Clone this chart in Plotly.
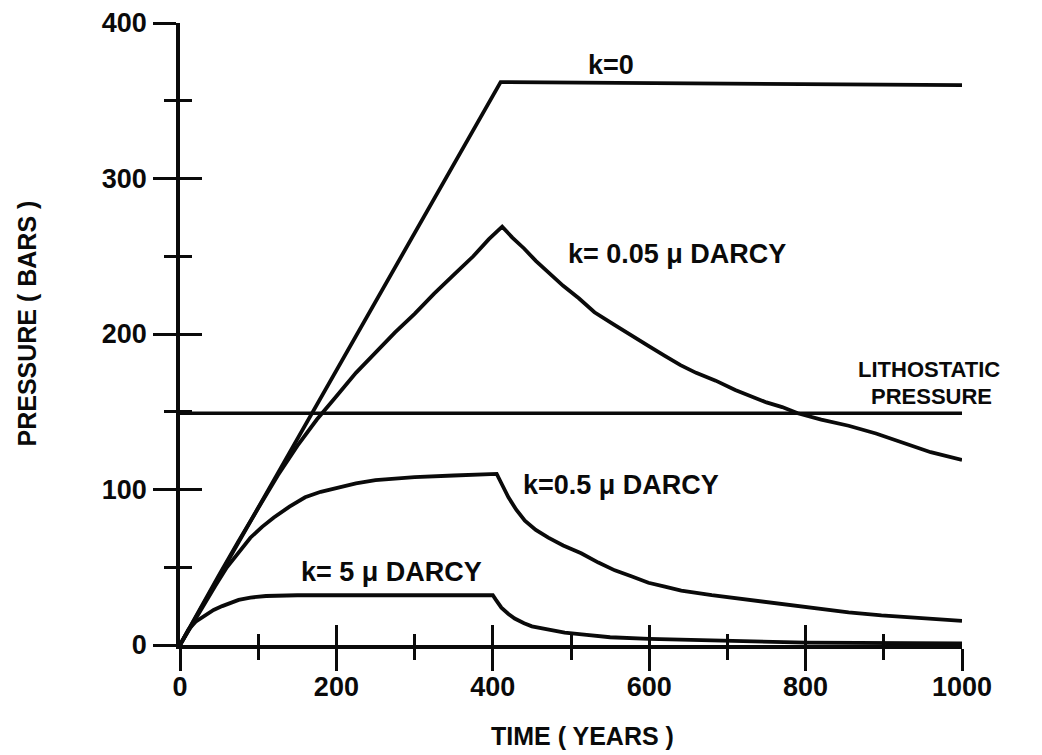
import plotly.graph_objects as go

# ---- data ----
t_k0 = [0, 410, 1000]
p_k0 = [0, 362, 360]

t_k005 = [0, 25, 50, 75, 100, 125, 150, 175, 200, 225, 250, 275, 300, 325, 350, 375, 395, 412,
          425, 440, 455, 470, 490, 510, 530, 555, 580, 600, 620, 640, 660, 685, 710, 730, 750,
          770, 790, 820, 855, 890, 920, 960, 1000]
p_k005 = [0, 23, 45, 67, 88, 109, 128, 145, 160, 175, 188, 201, 213, 226, 238, 250, 261, 269,
          262, 255, 247, 240, 231, 223, 214, 206, 198, 192, 186, 180, 175, 170, 164, 160, 156,
          153, 149, 145, 141, 136, 131, 124, 119]

t_k05 = [0, 15, 30, 45, 60, 75, 90, 105, 120, 140, 160, 180, 200, 225, 250, 300, 350, 400, 405,
         410, 415, 420, 430, 441, 455, 471, 490, 513, 535, 556, 578, 599, 620, 641, 680, 727,
         770, 811, 855, 897, 950, 1000]
p_k05 = [0, 13, 26, 38, 50, 60, 69, 76, 82, 89, 95, 98.5, 101, 104, 106, 108, 109, 110, 110,
         105, 100, 95, 87, 80, 74, 69, 64, 59, 53, 48, 44, 40, 37.5, 35, 32, 29,
         26, 23.5, 21, 19, 17, 15.5]

t_k5 = [0, 5, 11, 20, 32, 43, 54, 65, 75, 90, 110, 150, 400, 404, 411, 420, 428, 440, 450, 470,
        492, 520, 550, 600, 700, 800, 1000]
p_k5 = [0, 5, 10, 15, 19, 22.5, 25, 27, 29, 30.5, 31.5, 32, 32, 29, 24, 20, 17, 14, 12, 10,
        8, 6.5, 5, 4, 2.5, 1.5, 1]

t_litho = [0, 1000]
p_litho = [149, 149]

x_ticks = [0, 200, 400, 600, 800, 1000]
y_ticks = [0, 100, 200, 300, 400]

labels = ["k=0", "k= 0.05 \u03bc DARCY", "k=0.5 \u03bc DARCY", "k= 5 \u03bc DARCY"]
label_t = [551, 636, 564, 271]
label_p = [373, 251.5, 103, 47]

litho_lines = ["LITHOSTATIC", "PRESSURE"]
litho_t = [958, 961]
litho_p = [177, 160]

INK = "#0a0a0a"
FONT = "Liberation Sans, Arial, sans-serif"
LW = 3.8

fig = go.Figure()
line_style = dict(color=INK, width=LW)
fig.add_trace(go.Scatter(x=t_k0, y=p_k0, mode="lines", line=line_style))
fig.add_trace(go.Scatter(x=t_k005, y=p_k005, mode="lines", line=line_style))
fig.add_trace(go.Scatter(x=t_k05, y=p_k05, mode="lines", line=line_style))
fig.add_trace(go.Scatter(x=t_k5, y=p_k5, mode="lines", line=line_style,
                         xaxis="x", yaxis="y2"))
fig.add_trace(go.Scatter(x=t_litho, y=p_litho, mode="lines", line=dict(color=INK, width=3.4),
                         xaxis="x2", yaxis="y"))

tickfont = dict(family=FONT, size=27, color=INK, weight="bold")

common = dict(showgrid=False, zeroline=False, color=INK, automargin=False)
# page body has an 8px default margin, so the figure is sized/offset to compensate
fig.update_layout(
    width=1034, height=747, autosize=False,
    margin=dict(l=172, r=80, t=15, b=110),
    paper_bgcolor="white", plot_bgcolor="white",
    showlegend=False,
    xaxis=dict(range=[0, 1000], tickvals=x_ticks, ticktext=[str(v) for v in x_ticks],
               showline=True, linewidth=LW, linecolor=INK,
               ticks="outside", ticklen=22, tickwidth=3, tickcolor=INK,
               minor=dict(dtick=100, tick0=0, ticks="outside", ticklen=11, tickwidth=3, tickcolor=INK),
               tickfont=tickfont, ticklabelstandoff=-7, ticklabeloverflow="allow", **common),
    xaxis2=dict(range=[0, 1000], overlaying="x", anchor="y", side="bottom",
                tickvals=x_ticks, showticklabels=False, showline=False,
                ticks="inside", ticklen=20, tickwidth=3, tickcolor=INK,
                minor=dict(dtick=100, tick0=0, ticks="inside", ticklen=11, tickwidth=3, tickcolor=INK),
                **common),
    yaxis=dict(range=[0, 400], tickvals=y_ticks, ticktext=[str(v) for v in y_ticks],
               showline=True, linewidth=LW, linecolor=INK,
               ticks="outside", ticklen=23, tickwidth=3, tickcolor=INK,
               minor=dict(dtick=50, tick0=0, ticks="outside", ticklen=12, tickwidth=3, tickcolor=INK),
               tickfont=tickfont, ticklabelstandoff=1, ticklabeloverflow="allow", **common),
    yaxis2=dict(range=[0, 400], overlaying="y", anchor="x", side="left",
                tickvals=y_ticks, showticklabels=False, showline=False,
                ticks="inside", ticklen=22, tickwidth=3, tickcolor=INK,
                minor=dict(dtick=50, tick0=0, ticks="inside", ticklen=12, tickwidth=3, tickcolor=INK),
                **common),
)

label_font = dict(family=FONT, size=27, color=INK, weight="bold")
for txt, tx, py in zip(labels, label_t, label_p):
    fig.add_annotation(x=tx, y=py, xref="x", yref="y", text=txt, showarrow=False,
                       font=label_font, xanchor="center", yanchor="middle")

litho_font = dict(family=FONT, size=22, color=INK, weight="bold")
for txt, tx, py in zip(litho_lines, litho_t, litho_p):
    fig.add_annotation(x=tx, y=py, xref="x", yref="y", text=txt, showarrow=False,
                       font=litho_font, xanchor="center", yanchor="middle")

title_font = dict(family=FONT, size=25, color=INK, weight="bold")
fig.add_annotation(x=-0.1957, y=0.5168, xref="paper", yref="paper", text="PRESSURE ( BARS )",
                   textangle=-90, showarrow=False, font=title_font,
                   xanchor="center", yanchor="middle")
fig.add_annotation(x=0.5153, y=-0.146, xref="paper", yref="paper", text="TIME ( YEARS )",
                   showarrow=False, font=title_font, xanchor="center", yanchor="middle")

fig.write_html("out.html")
